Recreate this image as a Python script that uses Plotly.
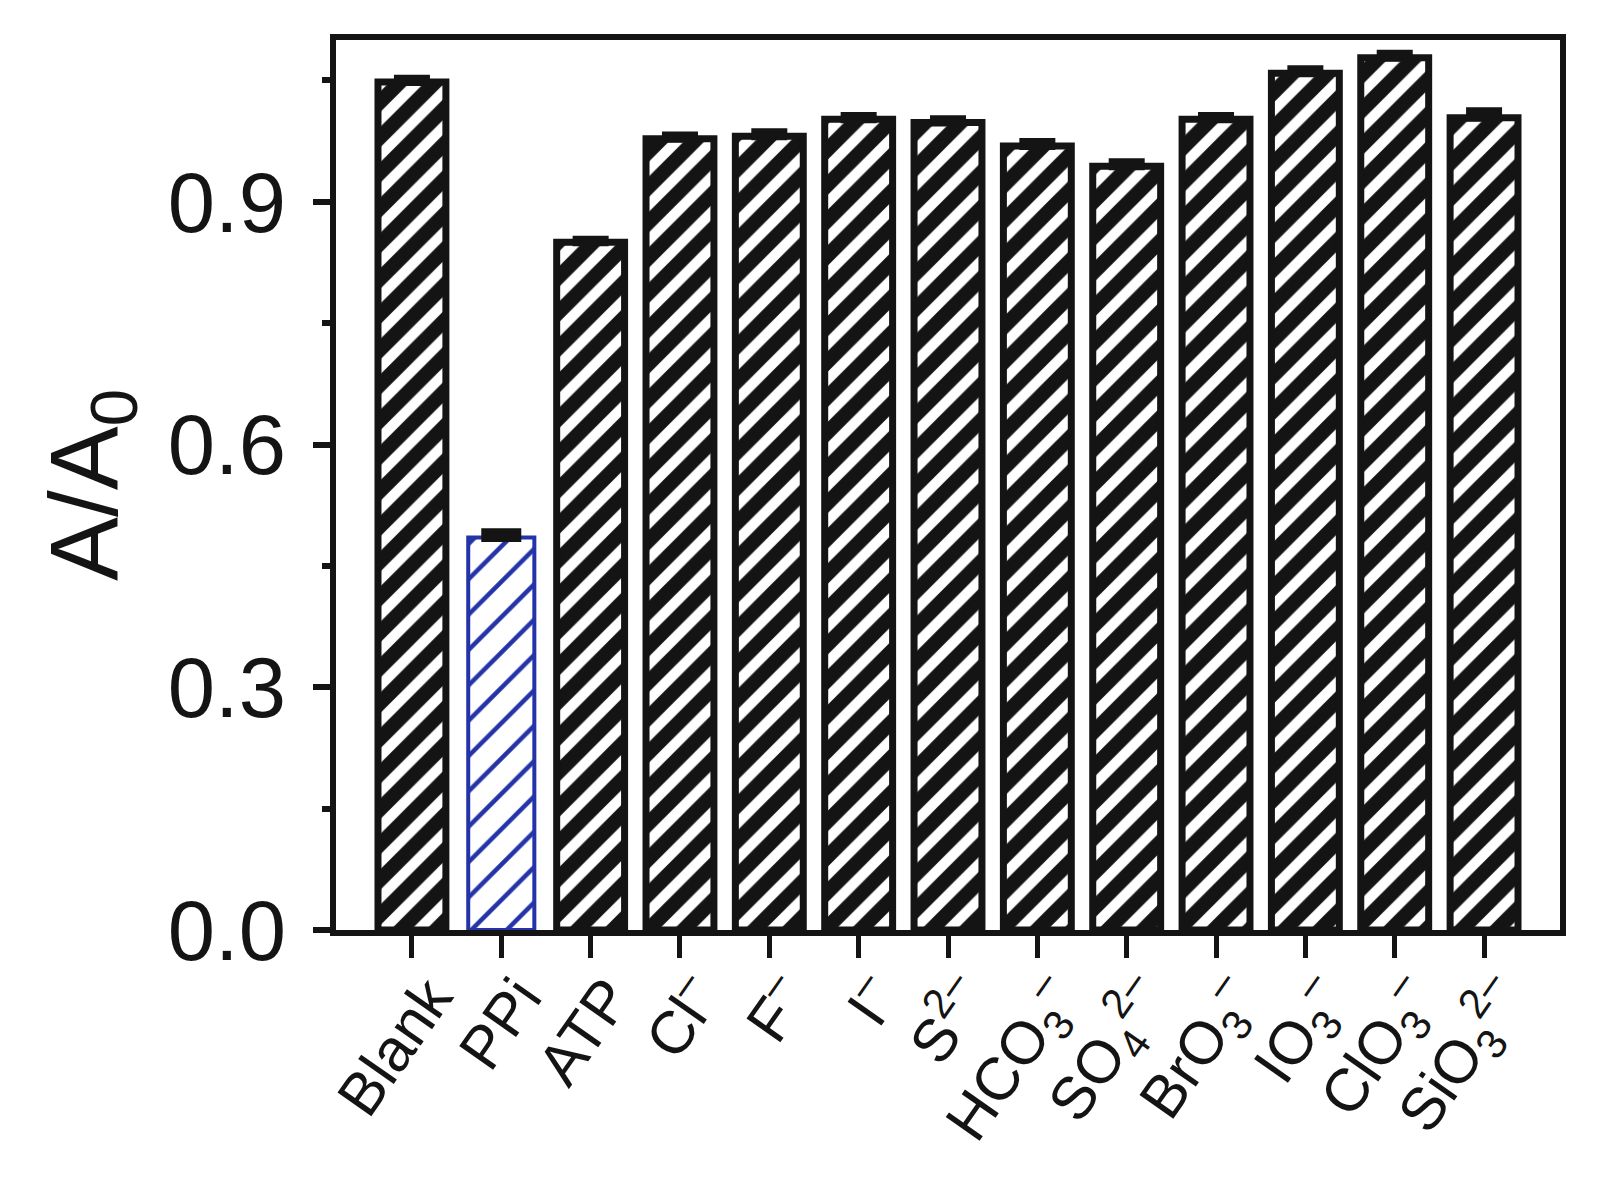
import plotly.graph_objects as go

labels = ["Blank", "PPi", "ATP", "Cl<sup>–</sup>", "F<sup>–</sup>", "I<sup>–</sup>",
          "S<sup>2–</sup>", "HCO<sub>3</sub><sup>–</sup>", "SO<sub>4</sub><sup>2–</sup>",
          "BrO<sub>3</sub><sup>–</sup>", "IO<sub>3</sub><sup>–</sup>",
          "ClO<sub>3</sub><sup>–</sup>", "SiO<sub>3</sub><sup>2–</sup>"]
values = [1.048, 0.485, 0.850, 0.978, 0.981, 1.002, 0.998, 0.969, 0.944,
          1.002, 1.059, 1.078, 1.004]
errors = [0.004, 0.006, 0.003, 0.004, 0.005, 0.004, 0.004, 0.005, 0.005,
          0.004, 0.005, 0.005, 0.008]

ink = "#141414"
blue = "#2434a8"
x = list(range(len(labels)))
others = [i for i in x if i != 1]

fig = go.Figure()
fig.add_trace(go.Bar(
    x=others, y=[values[i] for i in others],
    error_y=dict(type="data", array=[errors[i] for i in others],
                 arrayminus=[0] * len(others), symmetric=False,
                 color=ink, thickness=8, width=18),
    width=0.76,
    marker=dict(color="white", line=dict(color=ink, width=7),
                pattern=dict(shape="/", fgcolor=ink, bgcolor="white", fgopacity=1,
                             fillmode="replace", size=25, solidity=0.58)),
))
fig.add_trace(go.Bar(
    x=[1], y=[values[1]],
    error_y=dict(type="data", array=[errors[1]], arrayminus=[0], symmetric=False,
                 color=ink, thickness=9, width=20),
    width=0.74,
    marker=dict(color="white", line=dict(color=blue, width=4),
                pattern=dict(shape="/", fgcolor=blue, bgcolor="white", fgopacity=1,
                             fillmode="replace", size=25, solidity=0.18)),
))

fig.update_layout(
    width=1611, height=1197,
    paper_bgcolor="white", plot_bgcolor="white",
    showlegend=False, barmode="overlay",
    margin=dict(l=328, r=59, t=32, b=275),
    font=dict(family="Liberation Sans, Arial, sans-serif", color=ink),
)
fig.update_xaxes(
    range=[-0.85, 12.85], tickvals=x, ticktext=labels, tickangle=-55,
    ticks="outside", ticklen=22, tickwidth=5, tickcolor=ink,
    tickfont=dict(size=60), ticklabelstandoff=-20, ticklabelshift=18,
    showline=True, linewidth=6, linecolor=ink,
    mirror=True, showgrid=False, zeroline=False,
)
fig.update_yaxes(
    range=[0, 1.1], tickvals=[0, 0.3, 0.6, 0.9], ticktext=["0.0", "0.3", "0.6", "0.9"],
    ticks="outside", ticklen=17, tickwidth=6, tickcolor=ink,
    tickfont=dict(size=85), ticklabelstandoff=10,
    minor=dict(ticks="outside", dtick=0.15, tick0=0, ticklen=8, tickwidth=6,
               tickcolor=ink, showgrid=False),
    showline=True, linewidth=6, linecolor=ink, mirror=True,
    showgrid=False, zeroline=False,
    title=dict(text="A/A<sub>0</sub>", font=dict(size=96), standoff=20),
)

fig.write_html("out.html")
